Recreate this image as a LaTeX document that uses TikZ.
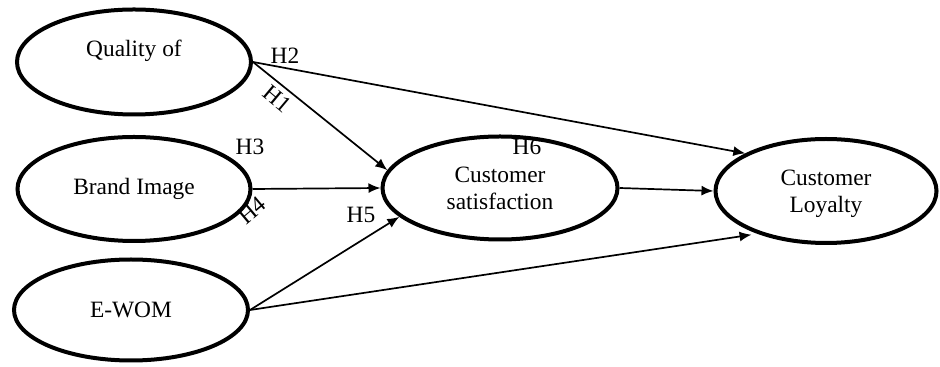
\documentclass[tikz,border=0pt]{standalone}
\usepackage{fontspec}
\setmainfont{Liberation Serif}
\usetikzlibrary{arrows.meta,shapes.geometric}

\begin{document}
\begin{tikzpicture}[>={Latex[length=6pt,width=5pt]}, x=0.5pt, y=-0.5pt, font=\fontsize{11.7}{13.3}\selectfont,
    construct/.style={draw, ellipse, line width=2pt, align=center, inner sep=0pt},
    link/.style={->, line width=0.85pt},
    hyp/.style={inner sep=0pt}]
      \useasboundingbox (0,0) rectangle (940,367);
      \node[construct, minimum width=117pt, minimum height=52.5pt] (qual) at (134,62) {Quality of\\\mbox{}};
      \node[construct, minimum width=116.5pt, minimum height=52pt] (brand) at (134,189) {Brand Image};
      \node[construct, minimum width=117pt, minimum height=50.5pt] (ewom) at (131,310) {E-WOM};
      \node[construct, text depth=0pt, minimum width=117.5pt, minimum height=51.5pt] (sat) at (500,188) {Customer\\satisfaction};
      \node[construct, text depth=0pt, minimum width=110.5pt, minimum height=52pt] (loy) at (826,191) {Customer\\Loyalty};
      \draw[link] (qual.east) -- (loy.155);
      \draw[link] (qual.east) -- (sat.171);
      \draw[link] (brand.east) -- (sat.west);
      \draw[link] (ewom.east) -- (sat.196);
      \draw[link, shorten >=3pt] (ewom.east) -- (loy.212);
      \draw[link] (sat.east) -- (loy.west);
      \node[hyp] (h2) at (285,56) {H2};
      \node[hyp, rotate=-40] (h1) at (277,99) {H1};
      \node[hyp] (h3) at (250,147) {H3};
      \node[hyp, rotate=40] (h4) at (252,210) {H4};
      \node[hyp] (h5) at (361,215) {H5};
      \node[hyp] (h6) at (527,147) {H6};
    \end{tikzpicture}
\end{document}
